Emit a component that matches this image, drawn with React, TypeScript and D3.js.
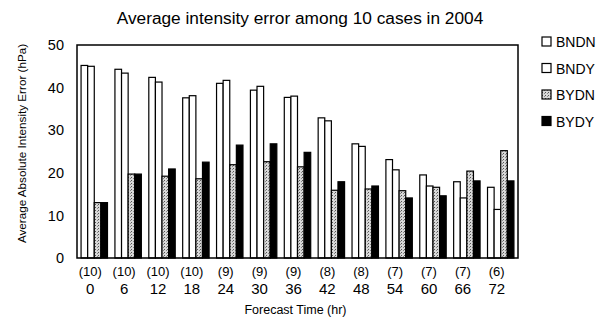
import * as d3 from "d3";
import { useEffect, useRef } from "react";

const hours = ["0", "6", "12", "18", "24", "30", "36", "42", "48", "54", "60", "66", "72"];
const caseCounts = ["(10)", "(10)", "(10)", "(10)", "(9)", "(9)", "(9)", "(8)", "(8)", "(7)", "(7)", "(7)", "(6)"];
const seriesNames = ["BNDN", "BNDY", "BYDN", "BYDY"];

const bndn = [45.2, 44.3, 42.4, 37.6, 41.0, 39.4, 37.7, 32.9, 26.8, 23.1, 19.5, 17.9, 16.6];
const bndy = [45.0, 43.4, 41.3, 38.1, 41.7, 40.3, 38.0, 32.2, 26.2, 20.7, 16.9, 14.1, 11.4];
const bydn = [13.0, 19.7, 19.2, 18.6, 21.9, 22.6, 21.4, 15.9, 16.2, 15.8, 16.6, 20.4, 25.2];
const bydy = [13.0, 19.7, 20.9, 22.5, 26.5, 26.8, 24.8, 17.9, 16.9, 14.1, 14.6, 18.1, 18.1];

const yTicks = [0, 10, 20, 30, 40, 50];

const font = "'Liberation Sans', Arial, sans-serif";

function drawChart(svgElement: SVGSVGElement) {
    const svg = d3.select(svgElement);
    svg.selectAll("*").remove();

    const margin = { top: 45, right: 94, bottom: 62, left: 77 };
    const width = 612 - margin.left - margin.right;
    const height = 320 - margin.top - margin.bottom;

    // stipple pattern for BYDN
    const defs = svg.append("defs");
    const pat = defs
        .append("pattern")
        .attr("id", "stipple")
        .attr("width", 3)
        .attr("height", 3)
        .attr("patternUnits", "userSpaceOnUse");
    pat.append("rect").attr("width", 3).attr("height", 3).attr("fill", "#d8d8d8");
    pat.append("rect").attr("width", 1).attr("height", 1).attr("fill", "#555");
    pat.append("rect").attr("x", 2).attr("y", 1).attr("width", 1).attr("height", 1).attr("fill", "#888");

    const fills = ["#fff", "#fff", "url(#stipple)", "#000"];
    const series = [bndn, bndy, bydn, bydy];

    const chart = svg.append("g").attr("transform", `translate(${margin.left},${margin.top})`);

    const x = d3.scaleBand().domain(hours).range([0, width]).paddingInner(0.22).paddingOuter(0.12);
    const xs = d3.scaleBand().domain(seriesNames).range([0, x.bandwidth()]);
    const y = d3.scaleLinear().domain([0, 50]).range([height, 0]);

    // Bars
    series.forEach((vals, si) => {
        chart
            .append("g")
            .selectAll("rect")
            .data(vals)
            .join("rect")
            .attr("x", (_, i) => x(hours[i])! + xs(seriesNames[si])!)
            .attr("y", (d) => y(d))
            .attr("width", xs.bandwidth())
            .attr("height", (d) => height - y(d))
            .attr("fill", fills[si])
            .attr("stroke", "#000")
            .attr("stroke-width", 1.2);
    });

    // Frame
    chart
        .append("rect")
        .attr("width", width)
        .attr("height", height)
        .attr("fill", "none")
        .attr("stroke", "#000")
        .attr("stroke-width", 1.5);

    // Y-axis labels
    chart
        .append("g")
        .call(d3.axisLeft(y).tickValues(yTicks).tickSize(0).tickPadding(13))
        .call((g) => g.select(".domain").remove())
        .selectAll("text")
        .style("font-family", font)
        .style("font-size", "14.5px")
        .style("fill", "#000");

    // X-axis labels
    chart
        .append("g")
        .selectAll("text.count")
        .data(caseCounts)
        .join("text")
        .attr("x", (_, i) => x(hours[i])! + x.bandwidth() / 2 - 4)
        .attr("y", height + 18)
        .attr("text-anchor", "middle")
        .style("font-family", font)
        .style("font-size", "13px")
        .text((d) => d);

    chart
        .append("g")
        .selectAll("text.hr")
        .data(hours)
        .join("text")
        .attr("x", (d) => x(d)! + x.bandwidth() / 2 - 4)
        .attr("y", height + 36)
        .attr("text-anchor", "middle")
        .style("font-family", font)
        .style("font-size", "15px")
        .text((d) => d);

    // X-axis title
    chart
        .append("text")
        .attr("x", width / 2 - 2)
        .attr("y", height + 56)
        .attr("text-anchor", "middle")
        .style("font-family", font)
        .style("font-size", "12.5px")
        .text("Forecast Time (hr)");

    // Y-axis title
    svg.append("text")
        .attr("transform", `translate(26, ${margin.top + height / 2 - 8}) rotate(-90)`)
        .attr("text-anchor", "middle")
        .style("font-family", font)
        .style("font-size", "11.7px")
        .text("Average Absolute Intensity Error (hPa)");

    // Title
    svg.append("text")
        .attr("x", 300)
        .attr("y", 24)
        .attr("text-anchor", "middle")
        .style("font-family", font)
        .style("font-size", "17.3px")
        .text("Average intensity error among 10 cases in 2004");

    // Legend
    const legend = svg.append("g").attr("transform", "translate(542,42)");
    seriesNames.forEach((name, i) => {
        const g = legend.append("g").attr("transform", `translate(0,${i * 26.5})`);
        g.append("rect")
            .attr("x", 0)
            .attr("y", -5)
            .attr("width", 9)
            .attr("height", 9)
            .attr("fill", fills[i])
            .attr("stroke", "#000")
            .attr("stroke-width", 1.2);
        g.append("text")
            .attr("x", 14)
            .attr("y", 5)
            .style("font-family", font)
            .style("font-size", "14px")
            .text(name);
    });
}

export default function App() {
    const ref = useRef<SVGSVGElement | null>(null);

    useEffect(() => {
        if (ref.current) drawChart(ref.current);
    }, []);

    return (
        <svg
            ref={ref}
            width={612}
            height={320}
            style={{ position: "absolute", left: 0, top: 0, background: "#fff" }}
        ></svg>
    );
}
